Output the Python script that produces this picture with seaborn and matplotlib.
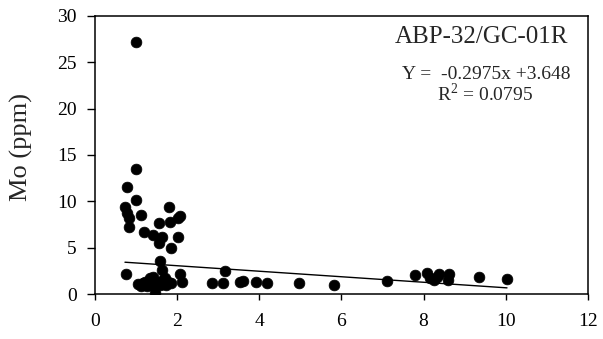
import matplotlib
matplotlib.use('Agg')

import matplotlib.pyplot as plt
import seaborn as sns
import numpy as np
import pandas as pd

# Mo vs x, ABP-32/GC-01R
x_vals = [1.01, 1.00, 0.79, 0.99, 0.73, 0.79, 0.83, 0.83, 1.11, 1.81, 2.07, 2.02,
          1.82, 1.55, 1.19, 1.42, 1.62, 1.56, 2.03, 1.85, 1.58, 0.75, 1.62, 2.07,
          2.13, 1.05, 1.18, 1.34, 1.42, 1.50, 1.66, 1.78, 1.86, 1.26, 1.58, 1.70,
          1.40, 1.46, 1.12, 1.30, 1.55, 1.62, 1.74, 1.22,
          2.84, 3.16, 3.11, 3.53, 3.61, 3.92, 4.19, 4.97, 5.82, 7.10, 7.79, 8.09,
          8.15, 8.25, 8.38, 8.33, 8.61, 8.60, 9.35, 10.03]
mo_vals = [27.2, 13.5, 11.5, 10.1, 9.4, 8.7, 8.2, 7.2, 8.5, 9.4, 8.4, 8.2,
           7.8, 7.7, 6.7, 6.4, 6.2, 5.5, 6.1, 5.0, 3.56, 2.2, 2.6, 2.2,
           1.3, 1.05, 1.15, 1.7, 1.87, 1.15, 1.5, 1.26, 1.15, 0.9, 0.97, 1.7,
           0.97, 0.1, 0.9, 1.2, 1.3, 1.1, 1.0, 1.3,
           1.15, 2.5, 1.2, 1.33, 1.44, 1.26, 1.15, 1.15, 0.97, 1.4, 2.05, 2.3,
           1.7, 1.5, 2.2, 1.8, 2.15, 1.5, 1.87, 1.58]

slope = -0.2975
intercept = 3.648
r2 = 0.0795

df = pd.DataFrame({'x': x_vals, 'Mo': mo_vals})
xfit = np.array([min(x_vals), max(x_vals)])
fit = pd.DataFrame({'x': xfit, 'Mo': slope * xfit + intercept})

sns.set_style('ticks')
plt.rcParams['font.family'] = ['Liberation Serif', 'DejaVu Serif']
plt.rcParams['mathtext.fontset'] = 'custom'
plt.rcParams['mathtext.rm'] = 'Liberation Serif'

fig = plt.figure(figsize=(6.03, 3.39), dpi=100)
ax = fig.add_axes([0.1575, 0.1327, 0.8175, 0.8203])

sns.scatterplot(data=df, x='x', y='Mo', color='black', s=60, edgecolor='black',
                linewidth=0.5, ax=ax)
sns.lineplot(data=fit, x='x', y='Mo', color='black', linewidth=1, ax=ax)

ax.set_xlim(0, 12)
ax.set_ylim(0, 30)
ax.set_xticks(range(0, 13, 2))
ax.set_yticks(range(0, 31, 5))
ax.set_xlabel('')
ax.set_ylabel('Mo (ppm)', fontsize=19)
ax.yaxis.set_label_coords(-0.125, 0.53)
ax.tick_params(axis='x', labelsize=14, length=4.5, width=1, pad=9, colors='black')
ax.tick_params(axis='y', labelsize=14, length=6, width=1, pad=7, colors='black')
for sp in ax.spines.values():
    sp.set_linewidth(1.1)
    sp.set_color('black')

ax.text(0.784, 0.925, 'ABP-32/GC-01R', transform=ax.transAxes, ha='center',
        va='center', fontsize=18)
ax.text(0.793, 0.788, 'Y =  %.4fx +%.3f' % (slope, intercept), transform=ax.transAxes,
        ha='center', va='center', fontsize=14)
ax.text(0.791, 0.719, r'R$^2$ = %.4f' % r2, transform=ax.transAxes,
        ha='center', va='center', fontsize=14)

plt.savefig('out.png', dpi=100)
plt.close()
